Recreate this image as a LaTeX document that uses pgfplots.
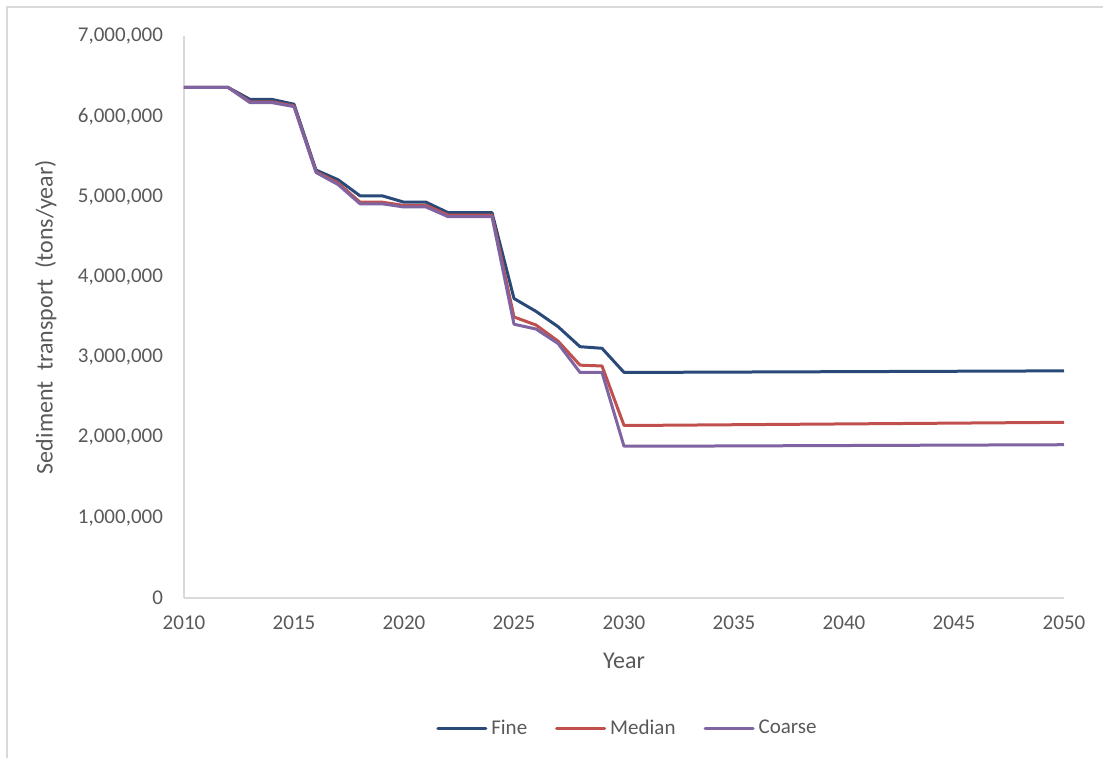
\documentclass[border=0pt]{standalone}
\usepackage{pgfplots}
\pgfplotsset{compat=1.18}
\usepackage{fontspec}
\setmainfont{Carlito}

\definecolor{txtgray}{RGB}{89,89,89}
\definecolor{axgray}{RGB}{217,217,217}
\definecolor{fine}{RGB}{41,74,120}
\definecolor{median}{RGB}{192,80,77}
\definecolor{coarse}{RGB}{128,100,162}

\begin{document}
\begin{tikzpicture}[x=1pt,y=1pt]
\useasboundingbox (0,0) rectangle (551.5,379);
% chart frame
\draw[axgray, line width=0.6pt] (3.5,0) -- (3.5,375.5) -- (551.5,375.5);
\begin{axis}[
  at={(92pt,80pt)}, anchor=origin,
  scale only axis,
  width=440pt, height=281pt,
  xmin=2010, xmax=2050,
  ymin=0, ymax=7000000,
  xtick={2010,2015,...,2050},
  ytick={0,1000000,...,7000000},
  scaled y ticks=false,
  axis x line*=bottom,
  axis y line*=left,
  axis line style={axgray, line width=0.8pt},
  x axis line style={-}, y axis line style={-},
  major tick length=0pt,
  tick style={draw=none},
  font=\fontsize{10.5}{12.5}\selectfont,
  every tick label/.append style={text=txtgray},
  yticklabel style={/pgf/number format/fixed, /pgf/number format/1000 sep={,},
    /pgf/number format/assume math mode=true, /tikz/xshift=-7pt},
  xticklabel style={/pgf/number format/1000 sep={},
    /pgf/number format/assume math mode=true, /tikz/yshift=-5.5pt},
  xlabel={Year},
  ylabel={Sediment\ \ transport\ \ (tons/year)},
  xlabel style={text=txtgray, font=\fontsize{12}{14}\selectfont,
    at={(axis description cs:0.5,-0.112)}, anchor=center},
  ylabel style={text=txtgray, font=\fontsize{12}{14}\selectfont,
    at={(axis description cs:-0.157,0.5)}, anchor=center},
  legend style={at={(axis description cs:0.505,-0.232)}, anchor=center, draw=none, fill=none,
    legend columns=3, font=\fontsize{10.5}{12.5}\selectfont, text=txtgray,
    /tikz/every even column/.append style={column sep=12pt}},
  legend cell align=left,
  legend image code/.code={\draw[#1,line cap=round] (0pt,0pt) -- (24pt,0pt);},
  every axis plot/.append style={line width=1.5pt, mark=none, line join=round},
]
\addplot[fine] coordinates {
(2010,6360000)(2011,6360000)(2012,6360000)(2013,6210000)(2014,6210000)
(2015,6150000)(2016,5330000)(2017,5210000)(2018,5010000)(2019,5010000)
(2020,4930000)(2021,4930000)(2022,4800000)(2023,4800000)(2024,4800000)
(2025,3730000)(2026,3570000)(2027,3380000)(2028,3130000)(2029,3110000)
(2030,2810000)(2031,2810000)(2032,2811000)(2033,2812000)(2034,2813000)
(2035,2814000)(2036,2815000)(2037,2816000)(2038,2817000)(2039,2818000)
(2040,2819000)(2041,2820000)(2042,2821000)(2043,2822000)(2044,2823000)
(2045,2824000)(2046,2825000)(2047,2826000)(2048,2827000)(2049,2828000)
(2050,2829000)};
\addlegendentry{Fine}
\addplot[median] coordinates {
(2010,6360000)(2011,6360000)(2012,6360000)(2013,6180000)(2014,6180000)
(2015,6130000)(2016,5310000)(2017,5170000)(2018,4930000)(2019,4930000)
(2020,4890000)(2021,4890000)(2022,4770000)(2023,4770000)(2024,4770000)
(2025,3500000)(2026,3400000)(2027,3200000)(2028,2900000)(2029,2890000)
(2030,2150000)(2031,2150000)(2032,2152000)(2033,2154000)(2034,2156000)
(2035,2158000)(2036,2160000)(2037,2162000)(2038,2164000)(2039,2166000)
(2040,2168000)(2041,2170000)(2042,2172000)(2043,2174000)(2044,2176000)
(2045,2178000)(2046,2180000)(2047,2182000)(2048,2184000)(2049,2186000)
(2050,2188000)};
\addlegendentry{Median}
\addplot[coarse] coordinates {
(2010,6360000)(2011,6360000)(2012,6360000)(2013,6170000)(2014,6170000)
(2015,6120000)(2016,5300000)(2017,5150000)(2018,4910000)(2019,4910000)
(2020,4870000)(2021,4870000)(2022,4750000)(2023,4750000)(2024,4750000)
(2025,3410000)(2026,3350000)(2027,3170000)(2028,2810000)(2029,2810000)
(2030,1890000)(2031,1890000)(2032,1891000)(2033,1892000)(2034,1893000)
(2035,1894000)(2036,1895000)(2037,1896000)(2038,1897000)(2039,1898000)
(2040,1899000)(2041,1900000)(2042,1901000)(2043,1902000)(2044,1903000)
(2045,1904000)(2046,1905000)(2047,1906000)(2048,1907000)(2049,1908000)
(2050,1909000)};
\addlegendentry{Coarse}
\end{axis}
\end{tikzpicture}
\end{document}
